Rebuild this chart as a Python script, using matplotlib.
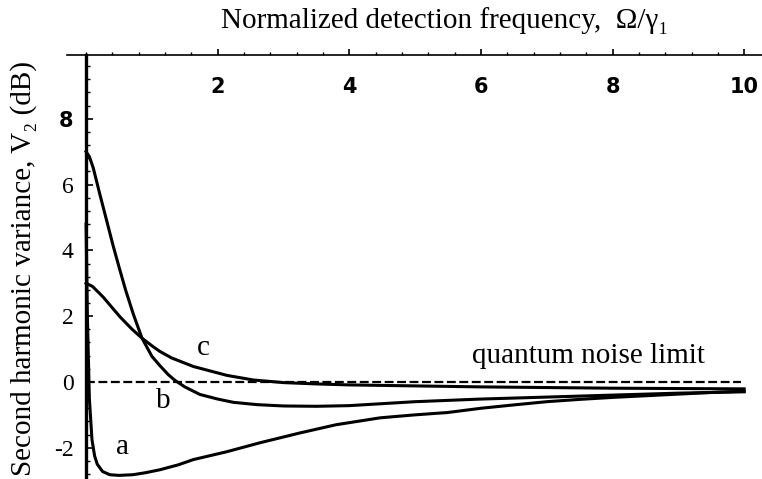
import numpy as np
import matplotlib
matplotlib.use("Agg")
import matplotlib.pyplot as plt
from matplotlib.ticker import MultipleLocator

plt.rcParams['axes.unicode_minus'] = False
serif = ['Liberation Serif', 'DejaVu Serif']

# curve a
xa = [0, 0.02, 0.05, 0.09, 0.13, 0.17, 0.25, 0.36, 0.5, 0.71, 0.9, 1.12, 1.4, 1.63,
      2.14, 2.64, 3.25, 3.8, 4.47, 5.0, 5.49, 6.0, 6.49, 7.0, 7.5, 8.0, 8.5, 9.0, 9.5, 10.0]
ya = [4.8, 2.0, -0.5, -1.76, -2.25, -2.5, -2.72, -2.82, -2.84, -2.82, -2.76, -2.67, -2.52, -2.36,
      -2.12, -1.85, -1.55, -1.3, -1.09, -1.0, -0.93, -0.8, -0.7, -0.6, -0.53, -0.47, -0.42, -0.37, -0.32, -0.28]

# curve b
xb = [0, 0.05, 0.11, 0.21, 0.32, 0.41, 0.5, 0.6, 0.72, 0.85, 1.0, 1.12, 1.25, 1.35, 1.5,
      1.73, 2.0, 2.24, 2.6, 3.0, 3.5, 4.0, 4.5, 5.0, 6.0, 7.0, 8.0, 9.0, 10.0]
yb = [7.0, 6.85, 6.5, 5.7, 4.85, 4.15, 3.5, 2.8, 2.05, 1.33, 0.78, 0.5, 0.22, 0.05, -0.15,
      -0.38, -0.52, -0.62, -0.69, -0.73, -0.74, -0.72, -0.66, -0.6, -0.52, -0.46, -0.4, -0.34, -0.3]

# curve c
xc = [0, 0.1, 0.26, 0.4, 0.52, 0.7, 0.85, 1.0, 1.12, 1.3, 1.63, 2.14, 2.54, 3.0, 3.5,
      4.0, 5.0, 6.0, 7.0, 8.0, 9.0, 10.0]
yc = [3.0, 2.9, 2.58, 2.25, 1.97, 1.6, 1.33, 1.1, 0.93, 0.73, 0.47, 0.2, 0.06, -0.02, -0.06,
      -0.09, -0.12, -0.15, -0.17, -0.19, -0.2, -0.21]

qnl_x = [0, 9.95]
qnl_y = [0, 0]

xticks = [2, 4, 6, 8, 10]
yticks = [-2, 0, 2, 4, 6, 8]

fig = plt.figure(figsize=(7.62, 4.79), dpi=100)
ax = fig.add_axes([0.0879, 0.0, 0.912, 0.8846])

ax.plot(qnl_x, qnl_y, color='black', lw=1.6, dashes=(4, 1.6))
for xs, ys in [(xa, ya), (xb, yb), (xc, yc)]:
    ax.plot(xs, ys, color='black', lw=2.2, solid_joinstyle='round')

ax.set_xlim(-0.29, 10.27)
ax.set_ylim(-2.95, 9.93)

ax.spines['right'].set_visible(False)
ax.spines['bottom'].set_visible(False)
ax.spines['left'].set_position(('data', 0))
ax.spines['left'].set_linewidth(2.4)
ax.spines['top'].set_linewidth(1.2)

ax.xaxis.set_ticks_position('top')
ax.set_xticks(xticks)
ax.xaxis.set_minor_locator(MultipleLocator(0.4))
ax.tick_params(axis='x', which='major', direction='out', length=4, width=1.2,
               pad=-34, labelsize=15)
ax.tick_params(axis='x', which='minor', direction='out', length=2.5, width=1.0)
for lab in ax.get_xticklabels():
    lab.set_fontweight('bold')
    lab.set_family('DejaVu Sans')

ax.set_yticks(yticks)
ax.yaxis.set_minor_locator(MultipleLocator(0.4))
ax.tick_params(axis='y', which='major', direction='in', length=5, width=1.2,
               pad=9, labelsize=17)
ax.tick_params(axis='y', which='minor', direction='in', length=3, width=1.0)
for lab in ax.get_yticklabels():
    lab.set_family(serif)
    if lab.get_text() == '8':
        lab.set_family('DejaVu Sans')
        lab.set_fontweight('bold')
        lab.set_fontsize(15)

ax.text(0.55, -1.98, 'a', family=serif, fontsize=21, ha='center', va='center')
ax.text(1.17, -0.58, 'b', family=serif, fontsize=21, ha='center', va='center')
ax.text(1.79, 1.03, 'c', family=serif, fontsize=21, ha='center', va='center')
ax.text(5.87, 0.58, 'quantum noise limit', family=serif, fontsize=21, ha='left', va='baseline')

fig.text(445 / 762, 1 - 28 / 479, 'Normalized detection frequency,  Ω/γ₁', family=serif,
         fontsize=21, ha='center', va='baseline')
fig.text(24 / 762, 1 - 268 / 479, 'Second harmonic variance, V₂ (dB)', family=serif,
         fontsize=21, ha='center', va='center', rotation=90)

fig.savefig('out.png', dpi=100)
